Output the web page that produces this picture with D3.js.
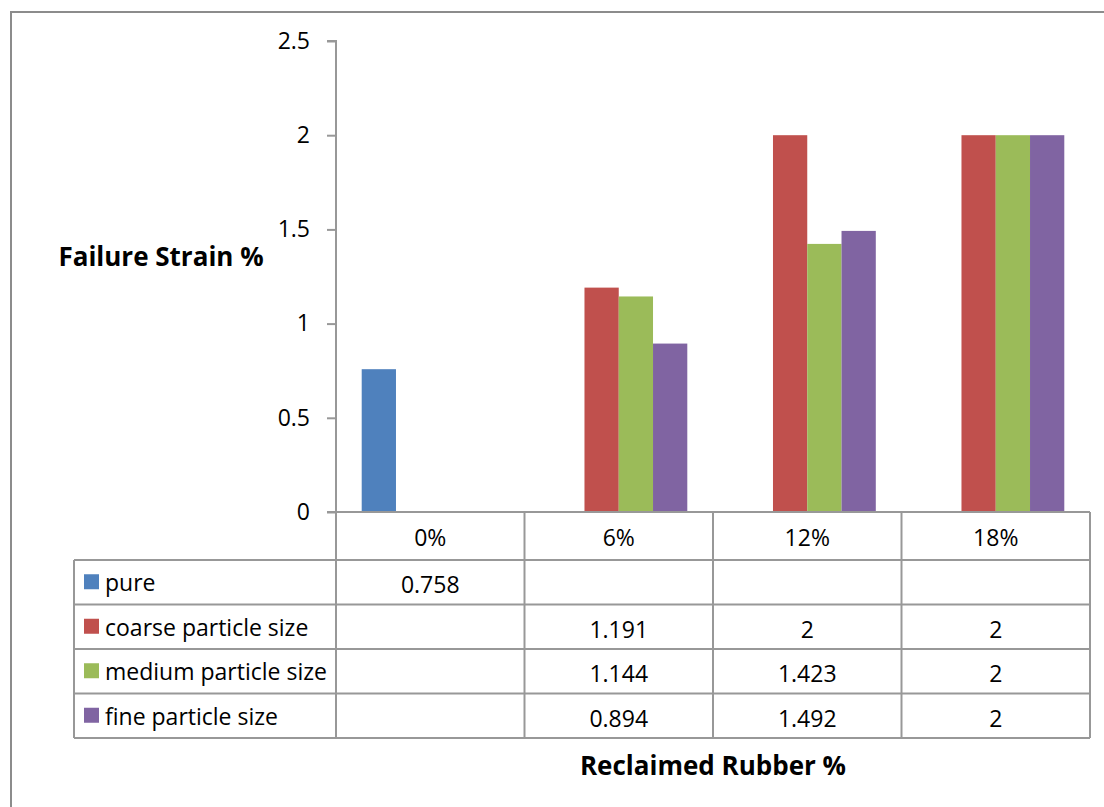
<!DOCTYPE html>
<html>
<head>
<meta charset="utf-8">
<script src="https://cdn.jsdelivr.net/npm/d3@7"></script>
<style>
  html, body { margin: 0; padding: 0; background: #fff; }
  svg { display: block; }
  text { font-family: "Open Sans", "Liberation Sans", sans-serif; fill: #000; }
</style>
</head>
<body>
<svg id="chart" width="1104" height="807"></svg>
<script>
// Reclaimed rubber content (columns of the data table)
const categories = ["0%", "6%", "12%", "18%"];
const seriesNames = ["pure", "coarse particle size", "medium particle size", "fine particle size"];
const seriesColors = ["#4F81BD", "#C0504D", "#9BBB59", "#8064A2"];
// Failure strain % per series; null where the table cell is empty
const pure   = [0.758, null, null, null];
const coarse = [null, 1.191, 2, 2];
const medium = [null, 1.144, 1.423, 2];
const fine   = [null, 0.894, 1.492, 2];
const yTicks = [0, 0.5, 1, 1.5, 2, 2.5];
const yTickLabels = ["0", "0.5", "1", "1.5", "2", "2.5"];

const series = [pure, coarse, medium, fine];

const svg = d3.select("#chart");
const gridColor = "#989898";
const labelSize = "23px";
const titleSize = "26px";

// Chart frame
svg.append("rect")
  .attr("x", 11).attr("y", 12)
  .attr("width", 1200).attr("height", 900)
  .attr("fill", "none").attr("stroke", "#8c8c8c").attr("stroke-width", 2);

const plotLeft = 336, plotRight = 1090, plotTop = 41, plotBottom = 512;

const x = d3.scaleBand().domain(categories).range([plotLeft, plotRight]).paddingInner(0).paddingOuter(0);
const y = d3.scaleLinear().domain([0, 2.5]).range([plotBottom, plotTop]);

// Bars: four per category, Excel-like 150% gap
const gapRatio = 1.5;
const barW = x.bandwidth() / (series.length + gapRatio);
const sub = d3.scaleBand().domain(d3.range(series.length))
  .range([0, barW * series.length]).padding(0);

const barG = svg.append("g");
series.forEach((vals, si) => {
  barG.selectAll(null)
    .data(categories.map((c, ci) => ({ c, v: vals[ci] })).filter(d => d.v != null))
    .enter().append("rect")
    .attr("x", d => x(d.c) + (x.bandwidth() - barW * series.length) / 2 + sub(si))
    .attr("y", d => y(d.v))
    .attr("width", sub.bandwidth())
    .attr("height", d => y(0) - y(d.v))
    .attr("fill", seriesColors[si]);
});

// Y axis
const yAxis = d3.axisLeft(y).tickValues(yTicks)
  .tickFormat((d, i) => yTickLabels[i]).tickSize(9).tickPadding(17);
const yg = svg.append("g").attr("transform", `translate(${plotLeft},0)`).call(yAxis);
yg.select(".domain").attr("stroke", gridColor).attr("stroke-width", 2).attr("d", `M-9,${plotTop}H0V${plotBottom}`);
yg.selectAll(".tick line").attr("stroke", gridColor).attr("stroke-width", 2);
yg.selectAll(".tick text").style("font-size", labelSize).style("font-family", "'Open Sans', sans-serif").attr("fill", "#000");

// Baseline
svg.append("line")
  .attr("x1", plotLeft - 9).attr("x2", plotRight)
  .attr("y1", y(0)).attr("y2", y(0))
  .attr("stroke", gridColor).attr("stroke-width", 2);

// Data table
const tableLeft = 74;
const headerBottom = 560;
const rowH = 44.5;
const tableBottom = headerBottom + rowH * series.length;
const tg = svg.append("g");

// Horizontal rules
d3.range(series.length + 1).forEach(i => {
  tg.append("line")
    .attr("x1", tableLeft).attr("x2", plotRight)
    .attr("y1", headerBottom + i * rowH).attr("y2", headerBottom + i * rowH)
    .attr("stroke", gridColor).attr("stroke-width", 2);
});
// Vertical rules at category boundaries
categories.concat([null]).forEach((c, i) => {
  const xx = c ? x(c) : plotRight;
  tg.append("line")
    .attr("x1", xx).attr("x2", xx)
    .attr("y1", y(0)).attr("y2", tableBottom)
    .attr("stroke", gridColor).attr("stroke-width", 2);
});
tg.append("line")
  .attr("x1", tableLeft).attr("x2", tableLeft)
  .attr("y1", headerBottom).attr("y2", tableBottom)
  .attr("stroke", gridColor).attr("stroke-width", 2);

// Header labels
tg.selectAll(null).data(categories).enter().append("text")
  .attr("x", d => x(d) + x.bandwidth() / 2)
  .attr("y", (y(0) + headerBottom) / 2 + 1)
  .attr("text-anchor", "middle").attr("dominant-baseline", "central")
  .style("font-size", labelSize).text(d => d);

// Row legend and values
series.forEach((vals, si) => {
  const cy = headerBottom + si * rowH + rowH / 2;
  tg.append("rect")
    .attr("x", 84).attr("y", cy - 8)
    .attr("width", 15).attr("height", 15)
    .attr("fill", seriesColors[si]);
  tg.append("text")
    .attr("x", 105).attr("y", cy)
    .attr("dominant-baseline", "central")
    .style("font-size", labelSize).text(seriesNames[si]);
  categories.forEach((c, ci) => {
    if (vals[ci] == null) return;
    tg.append("text")
      .attr("x", x(c) + x.bandwidth() / 2).attr("y", cy + 2)
      .attr("text-anchor", "middle").attr("dominant-baseline", "central")
      .style("font-size", labelSize).text(String(vals[ci]));
  });
});

// Axis titles
svg.append("text")
  .attr("x", 161).attr("y", 256)
  .attr("text-anchor", "middle").attr("dominant-baseline", "central")
  .style("font-size", titleSize).style("font-weight", "bold")
  .text("Failure Strain %");
svg.append("text")
  .attr("x", 713).attr("y", 765)
  .attr("text-anchor", "middle").attr("dominant-baseline", "central")
  .style("font-size", titleSize).style("font-weight", "bold")
  .text("Reclaimed Rubber %");
</script>
</body>
</html>
